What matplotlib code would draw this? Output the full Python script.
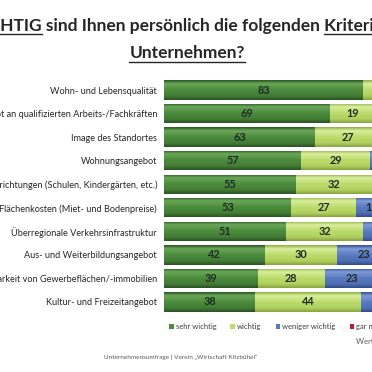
import numpy as np
import matplotlib.pyplot as plt
from matplotlib.colors import LinearSegmentedColormap
from matplotlib.lines import Line2D

plt.rcParams['font.family'] = ['Lato', 'DejaVu Sans']

# criteria (top to bottom) and shares in percent
criteria = [
    "Wohn- und Lebensqualität",
    "Angebot an qualifizierten Arbeits-/Fachkräften",
    "Image des Standortes",
    "Wohnungsangebot",
    "Bildungseinrichtungen (Schulen, Kindergärten, etc.)",
    "Flächenkosten (Miet- und Bodenpreise)",
    "Überregionale Verkehrsinfrastruktur",
    "Aus- und Weiterbildungsangebot",
    "Verfügbarkeit von Gewerbeflächen/-immobilien",
    "Kultur- und Freizeitangebot",
]
sehr_wichtig = [83, 69, 63, 57, 55, 53, 51, 42, 39, 38]
wichtig = [15, 19, 27, 29, 32, 27, 32, 30, 28, 44]
weniger_wichtig = [2, 10, 8, 12, 10, 13, 15, 23, 23, 16]
gar_nicht = [0, 2, 2, 2, 3, 7, 2, 5, 10, 2]

series = [
    ("sehr wichtig", sehr_wichtig, ['#2b5524', '#6aa858', '#4c8b3d', '#427c35', '#2a5223']),
    ("wichtig", wichtig, ['#8fae45', '#d9ee9c', '#bcdc6c', '#afd05e', '#86a53f']),
    ("weniger wichtig", weniger_wichtig, ['#34508f', '#7f9bd6', '#5a7bc1', '#4f6fb4', '#324c8a']),
    ("gar nicht wichtig", gar_nicht, ['#6e1016', '#d4505a', '#b3212d', '#9e1c27', '#6a0f15']),
]

W, H = 372, 372
fig = plt.figure(figsize=(W / 100, H / 100), dpi=100)
fig.patch.set_facecolor('white')

# axes run past the right edge of the picture (cropped chart)
row0, step = 90, 23.55
ax_top = row0 - 0.5 * step
ax_h = 10 * step
ax = fig.add_axes([164 / W, 1 - (ax_top + ax_h) / H, 240 / W, ax_h / H])

y = np.arange(len(criteria))
left = np.zeros(len(criteria))
grad = np.linspace(0, 1, 64).reshape(-1, 1)
for name, vals, cols in series:
    cmap = LinearSegmentedColormap.from_list(name, list(zip([0, 0.18, 0.5, 0.8, 1], cols)))
    bars = ax.barh(y, vals, left=left, height=0.82, color=cols[2], label=name,
                   edgecolor='none')
    for b, v in zip(bars, vals):
        if v <= 0:
            continue
        x0, y0, w, h = b.get_x(), b.get_y(), b.get_width(), b.get_height()
        im = ax.imshow(grad, extent=(x0, x0 + w, y0 + h, y0), cmap=cmap,
                       aspect='auto', origin='upper', zorder=2)
        im.set_clip_path(b)
        if v >= 5:
            ax.text(x0 + w / 2, y0 + h / 2, str(v), ha='center', va='center',
                    fontsize=7.8, fontweight='bold', color='#1d2a24', zorder=3)
    left += np.array(vals)

ax.set_xlim(0, 100)
ax.set_ylim(9.5, -0.5)
ax.set_yticks(y)
ax.set_yticklabels(criteria, fontsize=6.6, color='#262626')
ax.tick_params(axis='y', length=0, pad=5)
ax.set_xticks([])
for s in ax.spines.values():
    s.set_visible(False)
ax.patch.set_alpha(0)

leg = fig.legend(loc='center left', bbox_to_anchor=(169 / W, 1 - 327 / H),
                 ncol=4, frameon=False, fontsize=5.5, handlelength=0.6,
                 handleheight=0.6, handletextpad=0.3, columnspacing=1.8,
                 borderpad=0, borderaxespad=0)
for t in leg.get_texts():
    t.set_color('#404040')

fig.text(356 / W, 1 - 342 / H, "Werte in %", fontsize=5.6, color='#595959',
         ha='left', va='center')
fig.text(181 / W, 1 - 357 / H, "Unternehmensumfrage | Verein „Wirtschaft Kitzbühel“",
         fontsize=4.6, color='#595959', ha='center', va='center')

# title, partly cut off like the reference
line1 = "Wie WICHTIG sind Ihnen persönlich die folgenden Kriterien für Ihr"
line2 = "Unternehmen?"
tkw = dict(fontsize=12.55, fontweight='bold', color='#262626', va='baseline')
fig.canvas.draw()
r = fig.canvas.get_renderer()


def width(s):
    t = fig.text(0, 0, s, **tkw)
    w = t.get_window_extent(r).width
    t.remove()
    return w


x1 = -width("Wie WIC")
fig.text(x1 / W, 1 - 31 / H, line1, ha='left', **tkw)
t2 = fig.text(187 / W, 1 - 58 / H, line2, ha='center', **tkw)


def underline(x0, x1_, ypix):
    fig.add_artist(Line2D([x0 / W, x1_ / W], [1 - ypix / H] * 2, color='#262626',
                          lw=1.0, transform=fig.transFigure))


for word, prefix in [("WICHTIG", "Wie WICHTIG"), ("Kriterien", "Wie WICHTIG sind Ihnen persönlich die folgenden Kriterien")]:
    end = x1 + width(prefix)
    underline(end - width(word), end, 34)
bb = t2.get_window_extent(r)
underline(bb.x0, bb.x1, 62)

fig.savefig('out.png', dpi=100, facecolor='white')
